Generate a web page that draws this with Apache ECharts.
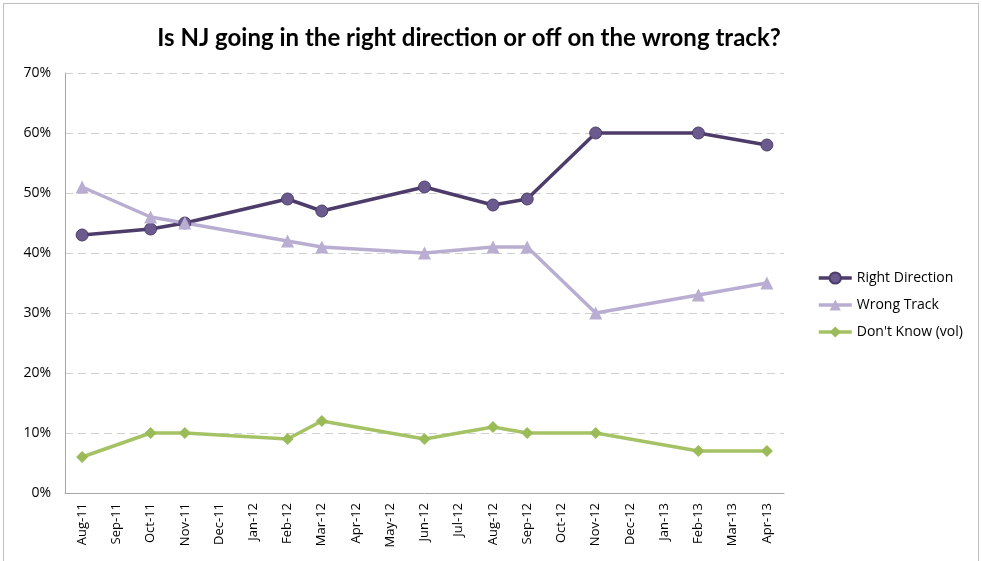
<!DOCTYPE html>
<html>
<head>
<meta charset="utf-8">
<script src="https://cdn.jsdelivr.net/npm/echarts@6/dist/echarts.min.js"></script>
<style>
html,body{margin:0;padding:0;background:#fff;}
#chart{position:absolute;left:3px;top:3px;width:976px;height:580px;border:1px solid #bfbfbf;box-sizing:border-box;}
</style>
</head>
<body>
<div id="chart"></div>
<script>
var months = ['Aug-11','Sep-11','Oct-11','Nov-11','Dec-11','Jan-12','Feb-12','Mar-12','Apr-12','May-12','Jun-12','Jul-12','Aug-12','Sep-12','Oct-12','Nov-12','Dec-12','Jan-13','Feb-13','Mar-13','Apr-13'];
var rightDirection = [43,null,44,45,null,null,49,47,null,null,51,null,48,49,null,60,null,null,60,null,58];
var wrongTrack     = [51,null,46,45,null,null,42,41,null,null,40,null,41,41,null,30,null,null,33,null,35];
var dontKnow       = [6,null,10,10,null,null,9,12,null,null,9,null,11,10,null,10,null,null,7,null,7];
var yTicks = [0,10,20,30,40,50,60,70];

var dom = document.getElementById('chart');
var myChart = echarts.init(dom);

function line(name, data, color, lineColor, symbol, size, border){
    return {
        name:name,
        type:'line',
        data:data,
        connectNulls:true,
        symbol:symbol,
        symbolSize:size,
        itemStyle:{color:color, borderColor:border, borderWidth:border ? 1 : 0},
        lineStyle:{color:lineColor, width:3.5},
        emphasis:{disabled:true}
    };
}

var option = {
    animation:false,
    title:{
        text:'Is NJ going in the right direction or off on the wrong track?',
        left:460, top:17, textAlign:'center',
        textStyle:{fontFamily:'Lato', fontSize:24, fontWeight:'bold', color:'#000'}
    },
    legend:{
        orient:'vertical',
        left:808, top:262,
        itemGap:13,
        itemWidth:33, itemHeight:14,
        lineStyle:{width:3.5},
        textStyle:{fontFamily:'Open Sans', fontSize:14, color:'#000'},
        data:['Right Direction','Wrong Track',"Don't Know (vol)"]
    },
    grid:{left:61, right:194, top:69, bottom:89, containLabel:false},
    xAxis:{
        type:'category',
        data:months,
        boundaryGap:true,
        axisLine:{show:true, lineStyle:{color:'#a6a6a6', width:1}},
        axisTick:{show:false},
        axisLabel:{rotate:90, fontFamily:'Open Sans', fontSize:13, color:'#000', margin:10, interval:0},
        splitLine:{show:false}
    },
    yAxis:{
        type:'value',
        min:yTicks[0], max:yTicks[yTicks.length-1], interval:10,
        axisLine:{show:true, lineStyle:{color:'#a6a6a6', width:1}},
        axisTick:{show:false},
        axisLabel:{formatter:'{value}%', fontFamily:'Open Sans', fontSize:14, color:'#000', margin:14},
        splitLine:{show:true, lineStyle:{color:'#d0d0d0', type:[8,5], width:1}}
    },
    series:[
        line('Right Direction', rightDirection, '#6b5a8e', '#4d3c6a', 'circle', 12, '#4d3c6a'),
        line('Wrong Track', wrongTrack, '#b9aed2', '#b9aed2', 'triangle', 13, null),
        line("Don't Know (vol)", dontKnow, '#9bbb59', '#a5c265', 'diamond', 12, null)
    ]
};
myChart.setOption(option, true);
</script>
</body>
</html>
